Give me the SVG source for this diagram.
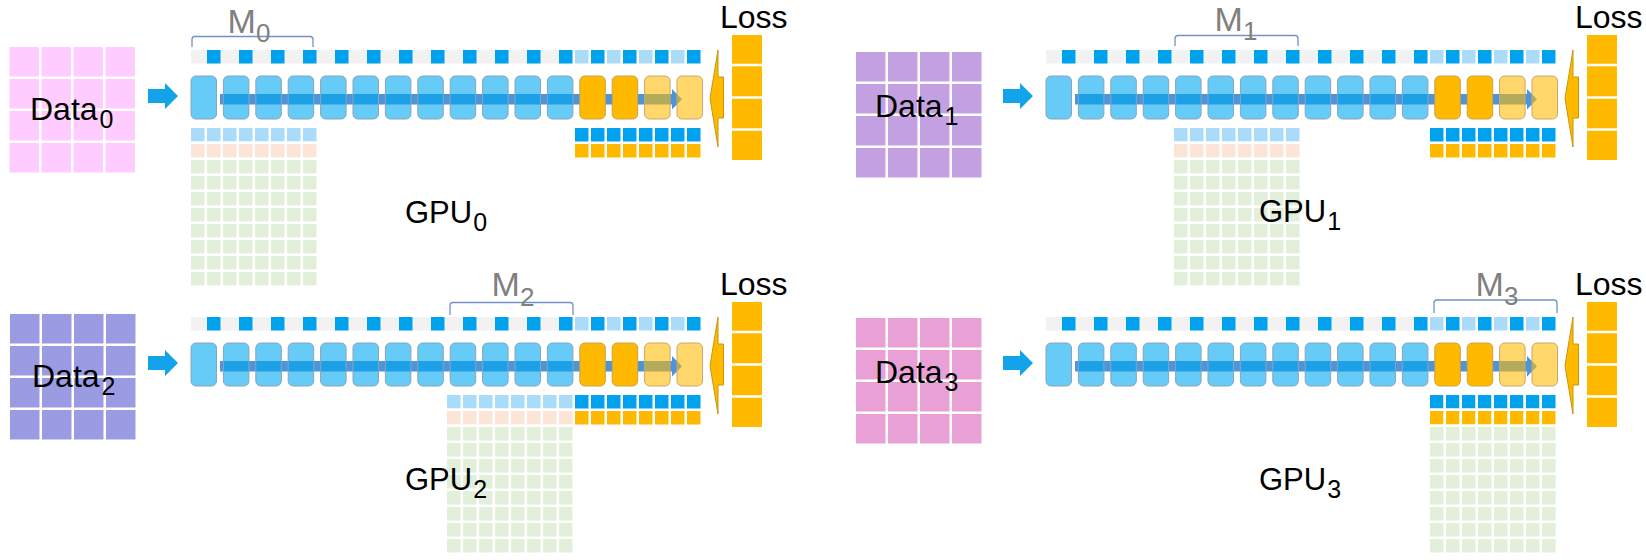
<svg xmlns="http://www.w3.org/2000/svg" width="1646" height="560" viewBox="0 0 1646 560">
<defs>
<style>
.t{font-family:"Liberation Sans",Arial,sans-serif;fill:#000}
.m{font-family:"Liberation Sans",Arial,sans-serif;fill:#808080}
.br{fill:none;stroke:#7391c4;stroke-width:1.3}
.wl{fill:none;stroke:#fff;stroke-width:2.5}
.bx{fill:#00a8f0;fill-opacity:.6;stroke:#8aa4b8;stroke-width:1}
.ox{fill:#ffba00;stroke:#c9a24a;stroke-width:1}
.lx{fill:#ffba00;fill-opacity:.58;stroke:#c9a86a;stroke-width:1}
.sq{fill:#00a2ed}
.lb{fill:#aadcfa}
.pe{fill:#fce4d6}
.gr{fill:#e2efda}
.og{fill:#ffba00}
.ia{fill:#12a3ea}
.la{fill:#ffba00;stroke:#c8960a;stroke-width:1}
.bar{fill:#4d94d9}
</style>
<path id="inArrow" class="ia" d="M148 89H165V83L178 96L165 109V103H148Z"/>
<g id="bar"><rect class="bar" x="220" y="94" width="452" height="10.5"/><polygon class="bar" points="672,89 682,99.25 672,109.5"/></g>
<path id="lossArrow" class="la" d="M723.5 77H718V50L710 98.5L718 147V118H723.5Z"/>
<g id="toprow">
<rect x="191" y="50" width="381.5" height="13.5" fill="#f2f2f2"/>
<rect class="lb" x="575" y="50" width="13.5" height="13.5"/>
<rect class="lb" x="607" y="50" width="13.5" height="13.5"/>
<rect class="lb" x="639" y="50" width="13.5" height="13.5"/>
<rect class="lb" x="671" y="50" width="13.5" height="13.5"/>
<rect class="sq" x="207" y="50" width="13.5" height="13.5"/>
<rect class="sq" x="239" y="50" width="13.5" height="13.5"/>
<rect class="sq" x="271" y="50" width="13.5" height="13.5"/>
<rect class="sq" x="303" y="50" width="13.5" height="13.5"/>
<rect class="sq" x="335" y="50" width="13.5" height="13.5"/>
<rect class="sq" x="367" y="50" width="13.5" height="13.5"/>
<rect class="sq" x="399" y="50" width="13.5" height="13.5"/>
<rect class="sq" x="431" y="50" width="13.5" height="13.5"/>
<rect class="sq" x="463" y="50" width="13.5" height="13.5"/>
<rect class="sq" x="495" y="50" width="13.5" height="13.5"/>
<rect class="sq" x="527" y="50" width="13.5" height="13.5"/>
<rect class="sq" x="559" y="50" width="13.5" height="13.5"/>
<rect class="sq" x="591" y="50" width="13.5" height="13.5"/>
<rect class="sq" x="623" y="50" width="13.5" height="13.5"/>
<rect class="sq" x="655" y="50" width="13.5" height="13.5"/>
<rect class="sq" x="687" y="50" width="13.5" height="13.5"/>
</g>
<g id="layers">
<rect class="bx" x="191" y="76" width="25.5" height="43" rx="5"/>
<rect class="bx" x="223.4" y="76" width="25.5" height="43" rx="5"/>
<rect class="bx" x="255.8" y="76" width="25.5" height="43" rx="5"/>
<rect class="bx" x="288.2" y="76" width="25.5" height="43" rx="5"/>
<rect class="bx" x="320.6" y="76" width="25.5" height="43" rx="5"/>
<rect class="bx" x="353" y="76" width="25.5" height="43" rx="5"/>
<rect class="bx" x="385.4" y="76" width="25.5" height="43" rx="5"/>
<rect class="bx" x="417.8" y="76" width="25.5" height="43" rx="5"/>
<rect class="bx" x="450.2" y="76" width="25.5" height="43" rx="5"/>
<rect class="bx" x="482.6" y="76" width="25.5" height="43" rx="5"/>
<rect class="bx" x="515" y="76" width="25.5" height="43" rx="5"/>
<rect class="bx" x="547.4" y="76" width="25.5" height="43" rx="5"/>
<rect class="ox" x="579.8" y="76" width="25.5" height="43" rx="5"/>
<rect class="ox" x="612.2" y="76" width="25.5" height="43" rx="5"/>
<rect class="lx" x="644.6" y="76" width="25.5" height="43" rx="5"/>
<rect class="lx" x="677" y="76" width="25.5" height="43" rx="5"/>
</g>
<g id="bo">
<rect class="sq" x="575" y="128" width="125.5" height="13.5"/>
<rect class="og" x="575" y="144" width="125.5" height="13.5"/>
<path class="wl" d="M589.75 127V158M605.75 127V158M621.75 127V158M637.75 127V158M653.75 127V158M669.75 127V158M685.75 127V158"/>
</g>
<path id="gl" class="wl" d="M14.75 -1V158.5M30.75 -1V158.5M46.75 -1V158.5M62.75 -1V158.5M78.75 -1V158.5M94.75 -1V158.5M110.75 -1V158.5M-1 14.75H126.5M-1 30.75H126.5M-1 46.75H126.5M-1 62.75H126.5M-1 78.75H126.5M-1 94.75H126.5M-1 110.75H126.5M-1 126.75H126.5M-1 142.75H126.5"/>
<path id="dl" class="wl" d="M30.75 -1V126.5M62.75 -1V126.5M94.75 -1V126.5M-1 30.75H126.5M-1 62.75H126.5M-1 94.75H126.5"/>
<g id="losscol">
<rect class="og" x="732" y="35" width="30" height="125"/>
<path class="wl" d="M731 65H763M731 97.5H763M731 129.5H763" stroke-width="3"/>
</g>
</defs>
<rect width="1646" height="560" fill="#fff"/>
<g id="connectors">
<use href="#inArrow"/>
<use href="#inArrow" transform="translate(855,0)"/>
<use href="#inArrow" transform="translate(0,267)"/>
<use href="#inArrow" transform="translate(855,267)"/>
<use href="#bar"/>
<use href="#bar" transform="translate(855,0)"/>
<use href="#bar" transform="translate(0,267)"/>
<use href="#bar" transform="translate(855,267)"/>
<use href="#lossArrow"/>
<use href="#lossArrow" transform="translate(855,0)"/>
<use href="#lossArrow" transform="translate(0,267)"/>
<use href="#lossArrow" transform="translate(855,267)"/>
</g>
<g id="gpu0">
<g id="data0" transform="translate(9.5,47)"><rect width="125.5" height="125.5" fill="#ffccff"/><use href="#dl"/></g>
<text class="t" x="30" y="120" font-size="32">Data<tspan font-size="25" dx="2" dy="8">0</tspan></text>
<use href="#toprow"/>
<use href="#layers"/>
<use href="#bo"/>
<g transform="translate(191,128)"><rect class="lb" width="125.5" height="13.5"/><rect class="pe" y="16" width="125.5" height="13.5"/><rect class="gr" y="32" width="125.5" height="125.5"/><use href="#gl"/></g>
<use href="#losscol"/>
<text class="t" x="720" y="28" font-size="32">Loss</text>
<path class="br" d="M192 47V39.5Q192 36.5 195 36.5H310Q313 36.5 313 39.5V47"/>
<text class="m" x="249" y="33" font-size="34" text-anchor="middle">M<tspan font-size="26" dy="9">0</tspan></text>
<text class="t" x="405" y="223" font-size="31">GPU<tspan font-size="25" dx="1" dy="8">0</tspan></text>
</g>
<g id="gpu1">
<g id="data1" transform="translate(856,52)"><rect width="125.5" height="125.5" fill="#c3a0e1"/><use href="#dl"/></g>
<text class="t" x="875" y="117" font-size="32">Data<tspan font-size="25" dx="2" dy="8">1</tspan></text>
<use href="#toprow" transform="translate(855,0)"/>
<use href="#layers" transform="translate(855,0)"/>
<use href="#bo" transform="translate(855,0)"/>
<g transform="translate(1174,128)"><rect class="lb" width="125.5" height="13.5"/><rect class="pe" y="16" width="125.5" height="13.5"/><rect class="gr" y="32" width="125.5" height="125.5"/><use href="#gl"/></g>
<use href="#losscol" transform="translate(855,0)"/>
<text class="t" x="1575" y="28" font-size="32">Loss</text>
<path class="br" d="M1175 46V38.5Q1175 35.5 1178 35.5H1295Q1298 35.5 1298 38.5V46"/>
<text class="m" x="1236" y="31" font-size="34" text-anchor="middle">M<tspan font-size="26" dy="9">1</tspan></text>
<text class="t" x="1259" y="222" font-size="31">GPU<tspan font-size="25" dx="1" dy="8">1</tspan></text>
</g>
<g id="gpu2">
<g id="data2" transform="translate(10,314)"><rect width="125.5" height="125.5" fill="#9b9be3"/><use href="#dl"/></g>
<text class="t" x="32" y="387" font-size="32">Data<tspan font-size="25" dx="2" dy="8">2</tspan></text>
<use href="#toprow" transform="translate(0,267)"/>
<use href="#layers" transform="translate(0,267)"/>
<use href="#bo" transform="translate(0,267)"/>
<g transform="translate(447,395)"><rect class="lb" width="125.5" height="13.5"/><rect class="pe" y="16" width="125.5" height="13.5"/><rect class="gr" y="32" width="125.5" height="125.5"/><use href="#gl"/></g>
<use href="#losscol" transform="translate(0,267)"/>
<text class="t" x="720" y="295" font-size="32">Loss</text>
<path class="br" d="M450 315V305.5Q450 302.5 453 302.5H570Q573 302.5 573 305.5V315"/>
<text class="m" x="513" y="296" font-size="34" text-anchor="middle">M<tspan font-size="26" dy="10">2</tspan></text>
<text class="t" x="405" y="490" font-size="31">GPU<tspan font-size="25" dx="1" dy="8">2</tspan></text>
</g>
<g id="gpu3">
<g id="data3" transform="translate(856,318)"><rect width="125.5" height="125.5" fill="#e8a0d7"/><use href="#dl"/></g>
<text class="t" x="875" y="383" font-size="32">Data<tspan font-size="25" dx="2" dy="8">3</tspan></text>
<use href="#toprow" transform="translate(855,267)"/>
<use href="#layers" transform="translate(855,267)"/>
<use href="#bo" transform="translate(855,267)"/>
<g transform="translate(1430,395)"><rect class="gr" y="32" width="125.5" height="125.5"/><use href="#gl"/></g>
<use href="#losscol" transform="translate(855,267)"/>
<text class="t" x="1575" y="295" font-size="32">Loss</text>
<path class="br" d="M1434 313V303Q1434 300 1437 300H1554Q1557 300 1557 303V313"/>
<text class="m" x="1497" y="296" font-size="34" text-anchor="middle">M<tspan font-size="26" dy="9">3</tspan></text>
<text class="t" x="1259" y="490" font-size="31">GPU<tspan font-size="25" dx="1" dy="8">3</tspan></text>
</g>
</svg>
